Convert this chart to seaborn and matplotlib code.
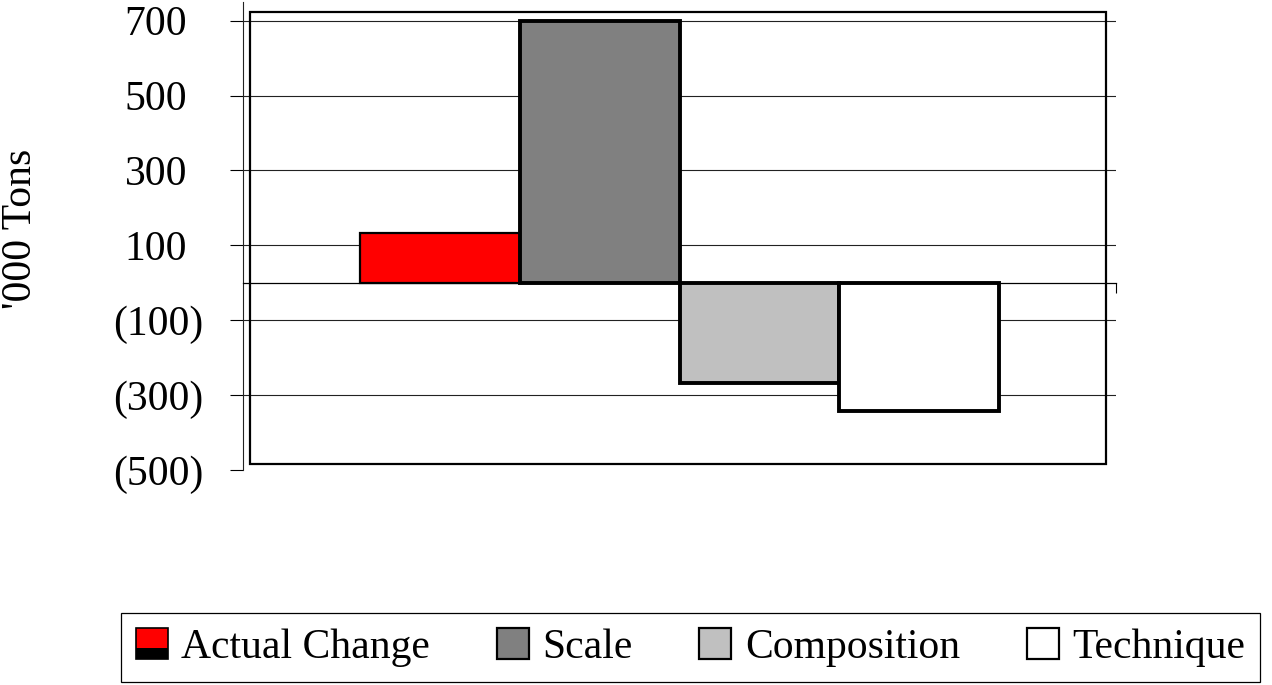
import matplotlib
matplotlib.use("Agg")
import matplotlib.pyplot as plt
import matplotlib.transforms as mtransforms
from matplotlib.patches import Rectangle, Patch
from matplotlib.legend_handler import HandlerBase
import pandas as pd
import seaborn as sns

# Decomposition of the change in emissions ('000 tons)
series = ["Actual Change", "Scale", "Composition", "Technique"]
values = [133, 700, -268, -342]
colors = ["#FF0000", "#808080", "#C0C0C0", "#FFFFFF"]
y_ticks = [-500, -300, -100, 100, 300, 500, 700]
y_tick_labels = ["(500)", "(300)", "(100)", "100", "300", "500", "700"]
y_title = "'000 Tons"

sns.set_theme(style="white")
plt.rcParams["font.family"] = ["Liberation Serif", "DejaVu Serif"]
FS = 30

W, H = 1272, 685
fig = plt.figure(figsize=(W / 100, H / 100), dpi=100)
fig.patch.set_facecolor("white")
ax = fig.add_axes([243 / W, 1 - 470 / H, 873 / W, 468 / H])
ax.patch.set_alpha(0)

df = pd.DataFrame({"group": ["All"] * len(series), "series": series, "value": values})
sns.barplot(data=df, x="group", y="value", hue="series", hue_order=series,
            palette=colors, saturation=1, width=0.731, gap=0,
            edgecolor="black", linewidth=2.8, legend=False, ax=ax, zorder=3)
for p in ax.patches:
    if p.get_facecolor()[:3] == (1.0, 0.0, 0.0):
        p.set_linewidth(1.6)

ax.set_xlim(-0.5, 0.5)
ax.set_ylim(-500, 750)
ax.set_xlabel("")

# y axis: ticks, labels, grid
ax.set_yticks(y_ticks)
ax.set_yticklabels(y_tick_labels, fontsize=FS)
ax.tick_params(axis="y", left=True, direction="out", length=9.4, width=0.8,
               color="black", pad=19.4, labelcolor="black")
ax.yaxis.grid(True, color="#222222", linewidth=0.8)
ax.set_axisbelow(True)
ticks = ax.yaxis.get_major_ticks()
ticks[0].gridline.set_visible(False)
shift = mtransforms.ScaledTranslation(-16 / 100, 0, fig.dpi_scale_trans)
for t, v in zip(ticks, y_ticks):
    if v > 0:
        t.label1.set_transform(t.label1.get_transform() + shift)

# category axis sits on zero
ax.set_xticks([0.5])
ax.set_xticklabels([""])
ax.tick_params(axis="x", bottom=True, direction="out", length=7, width=0.8, color="black")
for s in ("top", "right"):
    ax.spines[s].set_visible(False)
ax.spines["left"].set_color("#222222")
ax.spines["left"].set_linewidth(0.8)
ax.spines["bottom"].set_position(("data", 0))
ax.spines["bottom"].set_color("black")
ax.spines["bottom"].set_linewidth(0.9)

ax.set_ylabel(y_title, fontsize=FS, color="black")
ax.yaxis.set_label_coords(-0.232, 0.516)

# plot area frame
fig.add_artist(Rectangle((250 / W, 1 - 464 / H), (1106 - 250) / W, (464 - 12) / H,
                         transform=fig.transFigure, fill=False, edgecolor="black",
                         linewidth=1.6, zorder=1))


class SplitSwatch(HandlerBase):
    def create_artists(self, legend, orig_handle, xdescent, ydescent, width, height,
                       fontsize, trans):
        top = Rectangle((-xdescent, -ydescent + height * 0.37), width, height * 0.63,
                        facecolor=orig_handle.get_facecolor(), edgecolor="none", transform=trans)
        low = Rectangle((-xdescent, -ydescent), width, height * 0.37,
                        facecolor="black", edgecolor="none", transform=trans)
        rim = Rectangle((-xdescent, -ydescent), width, height, facecolor="none",
                        edgecolor="black", linewidth=1.2, transform=trans)
        return [top, low, rim]


handles = [Patch(facecolor=c, edgecolor="black", linewidth=1.6) for c in colors]
leg = fig.legend(handles, series, loc="center",
                 bbox_to_anchor=(121 / W, 1 / H, 1139 / W, 73 / H),
                 bbox_transform=fig.transFigure, ncol=4, mode="expand",
                 frameon=True, fancybox=False, shadow=False, edgecolor="black",
                 framealpha=1, fontsize=FS, handlelength=0.77, handleheight=0.77,
                 handletextpad=0.33, borderpad=0.35, borderaxespad=0, columnspacing=0.5,
                 handler_map={handles[0]: SplitSwatch()})
leg.get_frame().set_linewidth(0.9)
for txt in leg.get_texts():
    txt.set_color("black")

fig.savefig("out.png", dpi=100, facecolor="white")
